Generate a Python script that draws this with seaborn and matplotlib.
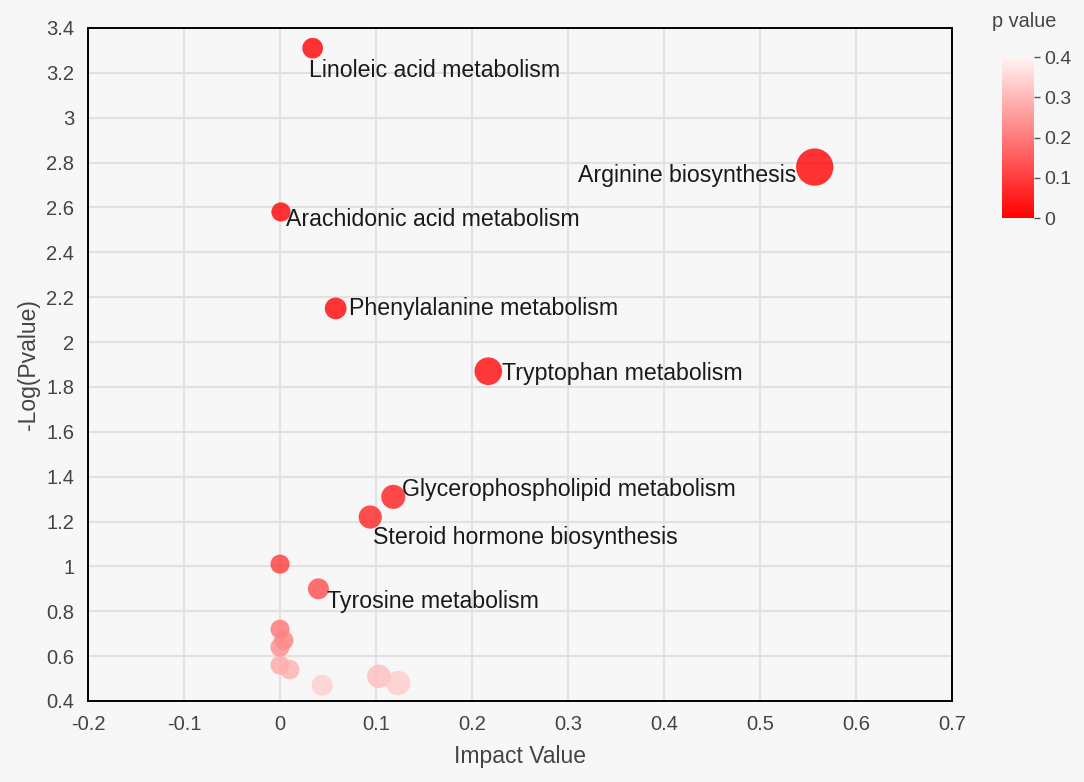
import matplotlib
matplotlib.use("Agg")
import matplotlib.pyplot as plt
import numpy as np
import pandas as pd
import seaborn as sns
from matplotlib.colors import LinearSegmentedColormap, Normalize
from matplotlib.ticker import FormatStrFormatter, MultipleLocator

# --- dane ---
IMPACT = [0.034, 0.557, 0.001, 0.058, 0.217, 0.118, 0.094, 0.0, 0.040,
          0.0, 0.004, 0.0, 0.0, 0.010, 0.044, 0.103, 0.123]
NEG_LOG_P = [3.31, 2.78, 2.58, 2.15, 1.87, 1.31, 1.22, 1.01, 0.90,
             0.72, 0.67, 0.64, 0.56, 0.54, 0.47, 0.51, 0.48]
PATHWAYS = ["Linoleic acid metabolism", "Arginine biosynthesis",
            "Arachidonic acid metabolism", "Phenylalanine metabolism",
            "Tryptophan metabolism", "Glycerophospholipid metabolism",
            "Steroid hormone biosynthesis", "", "Tyrosine metabolism",
            "", "", "", "", "", "", "", ""]

# przesunięcia podpisów w pikselach (dx, dy) i wyrównanie
LABEL_OFFSETS = {
    "Linoleic acid metabolism": (-4, -22, "left"),
    "Arginine biosynthesis": (-18, -8, "right"),
    "Arachidonic acid metabolism": (5, -8, "left"),
    "Phenylalanine metabolism": (13, 0, "left"),
    "Tryptophan metabolism": (14, -2, "left"),
    "Glycerophospholipid metabolism": (9, 7, "left"),
    "Steroid hormone biosynthesis": (3, -20, "left"),
    "Tyrosine metabolism": (9, -13, "left"),
}

BG = "#f7f7f7"
DPI = 100
PX = 72.0 / DPI

df = pd.DataFrame({"impact": IMPACT, "neglogp": NEG_LOG_P, "pathway": PATHWAYS})
df["p"] = 10.0 ** (-df["neglogp"])

cmap = LinearSegmentedColormap.from_list("pv", ["#ff0000", "#fff4f4"])
norm = Normalize(0, 0.4)

sns.set_style("white")
plt.rcParams["font.family"] = ["Liberation Sans", "DejaVu Sans"]

fig = plt.figure(figsize=(10.84, 7.82), dpi=DPI, facecolor=BG)
ax = fig.add_axes([0.0812, 0.1036, 0.797, 0.8606])
ax.set_facecolor(BG)

sns.scatterplot(data=df, x="impact", y="neglogp", hue="p", hue_norm=norm,
                palette=cmap, size="impact", sizes=(190, 720),
                size_norm=(0, 0.557), alpha=0.8, edgecolor="none",
                legend=False, ax=ax, zorder=3)

for _, row in df.iterrows():
    if not row["pathway"]:
        continue
    dx, dy, ha = LABEL_OFFSETS[row["pathway"]]
    ax.annotate(row["pathway"], (row["impact"], row["neglogp"]),
                xytext=(dx * PX, dy * PX), textcoords="offset points",
                ha=ha, va="center", fontsize=16.7, color="#1a1a1a", zorder=4)

ax.set_xlim(-0.2, 0.7)
ax.set_ylim(0.4, 3.4)
ax.xaxis.set_major_locator(MultipleLocator(0.1))
ax.yaxis.set_major_locator(MultipleLocator(0.2))
ax.xaxis.set_major_formatter(FormatStrFormatter("%g"))
ax.yaxis.set_major_formatter(FormatStrFormatter("%g"))
ax.grid(True, color="#e1e1e1", linewidth=1.5, zorder=0)
ax.set_axisbelow(True)
for side in ax.spines.values():
    side.set_color("black")
    side.set_linewidth(1.4)
ax.tick_params(axis="both", direction="out", length=6, width=1.3,
               color="black", labelsize=14.5, labelcolor="#444444", pad=4)
ax.set_xlabel("Impact Value", fontsize=16.5, color="#444444", labelpad=8)
ax.set_ylabel("-Log(Pvalue)", fontsize=16.5, color="#444444", labelpad=4)

# --- pasek kolorów ---
cax = fig.add_axes([0.924, 0.721, 0.030, 0.206])
sm = plt.cm.ScalarMappable(norm=norm, cmap=cmap)
cb = fig.colorbar(sm, cax=cax, ticks=[0, 0.1, 0.2, 0.3, 0.4])
cb.outline.set_visible(False)
cb.ax.yaxis.set_major_formatter(FormatStrFormatter("%g"))
cb.ax.tick_params(length=4, width=1, color="#555555", labelsize=14,
                  labelcolor="#444444", pad=3)
fig.text(0.945, 0.972, "p value", ha="center", va="center",
         fontsize=14.3, color="#444444")

fig.savefig("out.png", dpi=DPI, facecolor=BG)
